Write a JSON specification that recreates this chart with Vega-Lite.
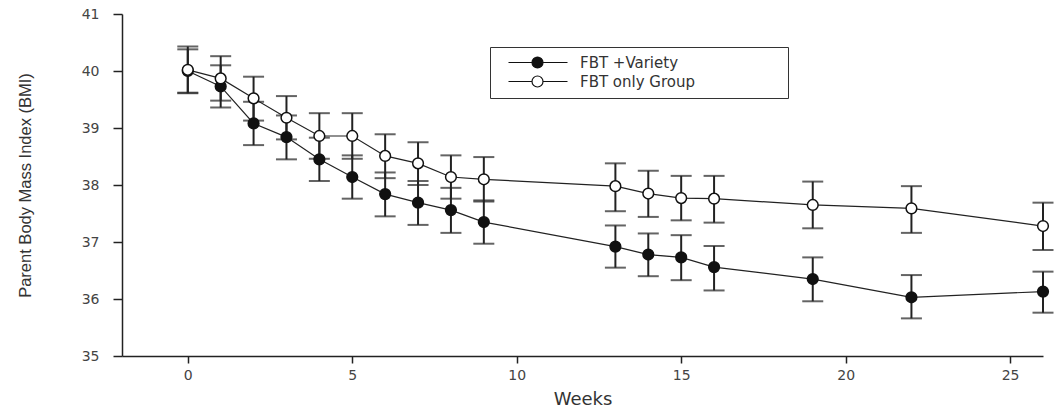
{
  "$schema": "https://vega.github.io/schema/vega-lite/v6.json",
  "width": 921,
  "height": 342,
  "autosize": {"type": "none"},
  "padding": {"left": 122, "top": 14, "right": 14, "bottom": 56},
  "background": "white",
  "config": {
    "view": {"stroke": null},
    "font": "DejaVu Sans",
    "axis": {"grid": false, "domainColor": "#222", "tickColor": "#222", "domainWidth": 1.5, "tickWidth": 1.5, "labelColor": "#444", "titleColor": "#333", "labelFont": "DejaVu Sans", "titleFont": "DejaVu Sans", "titleFontWeight": "normal"}
  },
  "data": {
    "values": [
      {"week": 0, "group": "FBT +Variety", "bmi": 40.00, "lower": 39.62, "upper": 40.38},
      {"week": 1, "group": "FBT +Variety", "bmi": 39.73, "lower": 39.36, "upper": 40.10},
      {"week": 2, "group": "FBT +Variety", "bmi": 39.08, "lower": 38.70, "upper": 39.46},
      {"week": 3, "group": "FBT +Variety", "bmi": 38.84, "lower": 38.45, "upper": 39.22},
      {"week": 4, "group": "FBT +Variety", "bmi": 38.45, "lower": 38.07, "upper": 38.83},
      {"week": 5, "group": "FBT +Variety", "bmi": 38.14, "lower": 37.76, "upper": 38.52},
      {"week": 6, "group": "FBT +Variety", "bmi": 37.84, "lower": 37.45, "upper": 38.22},
      {"week": 7, "group": "FBT +Variety", "bmi": 37.69, "lower": 37.30, "upper": 38.07},
      {"week": 8, "group": "FBT +Variety", "bmi": 37.56, "lower": 37.16, "upper": 37.95},
      {"week": 9, "group": "FBT +Variety", "bmi": 37.35, "lower": 36.97, "upper": 37.73},
      {"week": 13, "group": "FBT +Variety", "bmi": 36.92, "lower": 36.55, "upper": 37.29},
      {"week": 14, "group": "FBT +Variety", "bmi": 36.78, "lower": 36.40, "upper": 37.15},
      {"week": 15, "group": "FBT +Variety", "bmi": 36.73, "lower": 36.33, "upper": 37.12},
      {"week": 16, "group": "FBT +Variety", "bmi": 36.56, "lower": 36.15, "upper": 36.93},
      {"week": 19, "group": "FBT +Variety", "bmi": 36.35, "lower": 35.96, "upper": 36.73},
      {"week": 22, "group": "FBT +Variety", "bmi": 36.03, "lower": 35.66, "upper": 36.42},
      {"week": 26, "group": "FBT +Variety", "bmi": 36.13, "lower": 35.76, "upper": 36.48},
      {"week": 0, "group": "FBT only Group", "bmi": 40.02, "lower": 39.61, "upper": 40.43},
      {"week": 1, "group": "FBT only Group", "bmi": 39.87, "lower": 39.48, "upper": 40.26},
      {"week": 2, "group": "FBT only Group", "bmi": 39.52, "lower": 39.13, "upper": 39.90},
      {"week": 3, "group": "FBT only Group", "bmi": 39.18, "lower": 38.80, "upper": 39.56},
      {"week": 4, "group": "FBT only Group", "bmi": 38.86, "lower": 38.46, "upper": 39.26},
      {"week": 5, "group": "FBT only Group", "bmi": 38.86, "lower": 38.46, "upper": 39.26},
      {"week": 6, "group": "FBT only Group", "bmi": 38.51, "lower": 38.12, "upper": 38.89},
      {"week": 7, "group": "FBT only Group", "bmi": 38.38, "lower": 38.00, "upper": 38.75},
      {"week": 8, "group": "FBT only Group", "bmi": 38.14, "lower": 37.76, "upper": 38.52},
      {"week": 9, "group": "FBT only Group", "bmi": 38.10, "lower": 37.71, "upper": 38.49},
      {"week": 13, "group": "FBT only Group", "bmi": 37.98, "lower": 37.54, "upper": 38.38},
      {"week": 14, "group": "FBT only Group", "bmi": 37.85, "lower": 37.44, "upper": 38.25},
      {"week": 15, "group": "FBT only Group", "bmi": 37.77, "lower": 37.38, "upper": 38.16},
      {"week": 16, "group": "FBT only Group", "bmi": 37.76, "lower": 37.34, "upper": 38.16},
      {"week": 19, "group": "FBT only Group", "bmi": 37.65, "lower": 37.24, "upper": 38.06},
      {"week": 22, "group": "FBT only Group", "bmi": 37.59, "lower": 37.16, "upper": 37.98},
      {"week": 26, "group": "FBT only Group", "bmi": 37.28, "lower": 36.86, "upper": 37.69}
    ]
  },
  "encoding": {
    "x": {
      "field": "week", "type": "quantitative",
      "scale": {"domain": [-2, 26], "nice": false, "zero": false},
      "axis": {"values": [0, 5, 10, 15, 20, 25], "title": "Weeks", "titleFontSize": 18, "labelFontSize": 14, "tickSize": 7, "labelPadding": 5, "titlePadding": 8}
    }
  },
  "layer": [
    {
      "mark": {"type": "errorbar", "ticks": {"size": 21, "thickness": 2, "color": "#222"}, "rule": {"strokeWidth": 2, "color": "#222"}},
      "encoding": {
        "y": {"field": "lower", "type": "quantitative", "scale": {"domain": [35, 41], "nice": false, "zero": false},
          "axis": {"values": [35, 36, 37, 38, 39, 40, 41], "format": "d", "title": "Parent Body Mass Index (BMI)", "titleFont": "Liberation Sans", "titleFontSize": 16.5, "labelFontSize": 14, "tickSize": 9, "labelPadding": 14, "titlePadding": 48}},
        "y2": {"field": "upper"},
        "detail": {"field": "group"}
      }
    },
    {
      "mark": {"type": "line", "color": "#222", "strokeWidth": 1.2},
      "encoding": {
        "y": {"field": "bmi", "type": "quantitative"},
        "detail": {"field": "group"}
      }
    },
    {
      "mark": {"type": "point", "shape": "circle", "size": 115, "stroke": "#111", "strokeWidth": 1.5, "opacity": 1},
      "encoding": {
        "y": {"field": "bmi", "type": "quantitative"},
        "fill": {
          "field": "group", "type": "nominal",
          "scale": {"domain": ["FBT +Variety", "FBT only Group"], "range": ["#111", "white"]},
          "legend": {
            "title": null, "orient": "none", "legendX": 368, "legendY": 33,
            "symbolType": "M0.6,0H5.3M7.5,0H12.4M5.3,0A1.1,1.1,0,1,0,7.5,0A1.1,1.1,0,1,0,5.3,0ZM54.4,0",
            "symbolSize": 100, "symbolStrokeColor": "#111", "symbolStrokeWidth": 1.2,
            "labelFont": "DejaVu Sans", "labelFontSize": 15, "labelColor": "#333", "labelOffset": 67,
            "rowPadding": 2, "padding": 8, "strokeColor": "#333"
          }
        }
      }
    }
  ]
}
